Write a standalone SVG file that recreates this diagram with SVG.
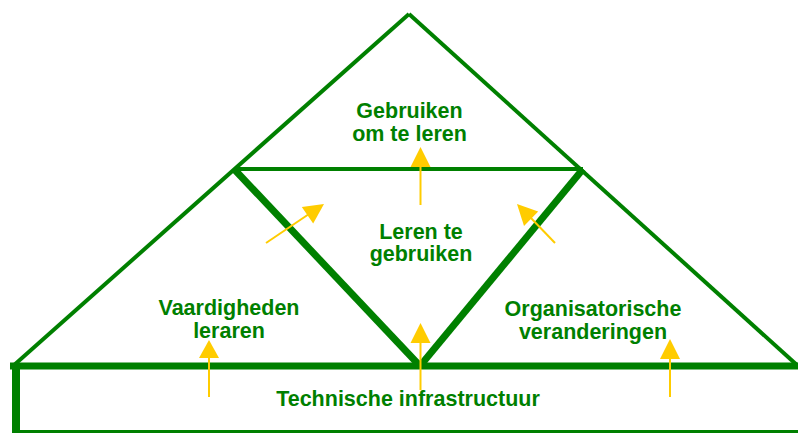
<svg xmlns="http://www.w3.org/2000/svg" width="798" height="433" viewBox="0 0 798 433">
<style>
.thin{stroke:#008000;stroke-width:4;fill:none;stroke-linecap:butt}
.thick{stroke:#008000;stroke-width:7;fill:none}
.lbl{font-family:"Liberation Sans",Arial,sans-serif;font-weight:bold;font-size:21.5px;fill:#008000;text-anchor:middle}
.shaft{stroke:#FFCC00;stroke-width:2;fill:none}
.head{fill:#FFCC00}
</style>
<rect width="798" height="433" fill="#ffffff"/>
<g id="connectors">
<line class="thin" x1="13" y1="366" x2="409" y2="14"/>
<line class="thin" x1="409" y1="14" x2="798" y2="366"/>
<line class="thin" x1="234" y1="169" x2="583" y2="169"/>
<line class="thick" x1="234" y1="169" x2="420" y2="366"/>
<line class="thick" x1="583" y1="169" x2="420" y2="366"/>
<line class="thick" x1="10" y1="366" x2="798" y2="366"/>
<line x1="16" y1="366" x2="16" y2="433" stroke="#008000" stroke-width="8"/>
<line x1="12" y1="431.5" x2="798" y2="431.5" stroke="#008000" stroke-width="3"/>
</g>
<g id="arrows">
<line class="shaft" x1="420.5" y1="205" x2="420.5" y2="165"/>
<polygon class="head" points="420.5,147 410.5,167 430.5,167"/>
<line class="shaft" x1="420.5" y1="390" x2="420.5" y2="341"/>
<polygon class="head" points="420.5,323 410.5,343 430.5,343"/>
<line class="shaft" x1="209" y1="397" x2="209" y2="356"/>
<polygon class="head" points="209,340 199,358 219,358"/>
<line class="shaft" x1="670" y1="397" x2="670" y2="357"/>
<polygon class="head" points="670,339 660,359 680,359"/>
<line class="shaft" x1="266" y1="243" x2="309" y2="214"/>
<polygon class="head" points="324,204 301.8,206.9 313.2,223.5"/>
<line class="shaft" x1="555" y1="243" x2="529" y2="216"/>
<polygon class="head" points="517,204 538.2,211.4 524,226"/>
</g>
<g id="top">
<text class="lbl" x="409.5" y="118">Gebruiken</text>
<text class="lbl" x="409.5" y="141">om te leren</text>
</g>
<g id="middle">
<text class="lbl" x="421" y="239">Leren te</text>
<text class="lbl" x="421" y="261">gebruiken</text>
</g>
<g id="left">
<text class="lbl" x="229" y="315">Vaardigheden</text>
<text class="lbl" x="229" y="338">leraren</text>
</g>
<g id="right">
<text class="lbl" x="593" y="316">Organisatorische</text>
<text class="lbl" x="593" y="339">veranderingen</text>
</g>
<g id="base">
<text class="lbl" x="408" y="406">Technische infrastructuur</text>
</g>
</svg>
